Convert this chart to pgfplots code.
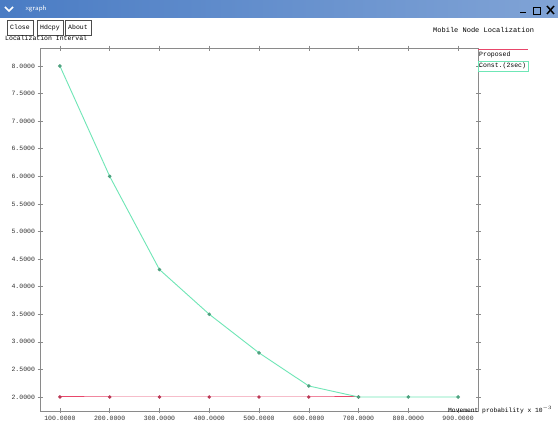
\documentclass[border=0pt]{standalone}
\usepackage{fontspec}
\setmainfont{Liberation Sans}
\setmonofont{Liberation Mono}
\usepackage{pgfplots}
\pgfplotsset{compat=1.18}
\definecolor{cgreen}{HTML}{6FE6B6}
\definecolor{cred}{HTML}{E8466A}
\definecolor{tbar}{HTML}{4A7CC4}
\definecolor{frm}{HTML}{8A8A8A}
\begin{document}
\begin{tikzpicture}[x=1pt,y=1pt]
\fill[white] (0,0) rectangle (558,421);
% window title bar
\shade[left color=tbar, right color=tbar!70!white] (0,403) rectangle (558,421);
\node[anchor=west, white, font=\sffamily\fontsize{7}{8}\selectfont] at (22,412) {xgraph};
\draw[white, line width=1.5pt] (5,414) -- (9,410) -- (13,414);
\draw[black, line width=1pt] (520,408) -- (526,408);
\draw[black, line width=0.8pt] (533,407) rectangle (540,414);
\draw[black, line width=1.5pt] (547,407) -- (554,415) (547,415) -- (554,407);
% buttons
\foreach \xa/\xb/\t in {7/33/Close, 37/63/Hdcpy, 65/91/About}{
  \draw[black!70, line width=0.6pt] (\xa,386) rectangle (\xb,401);
  \node[font=\ttfamily\fontsize{6.5}{7}\selectfont] at ({(\xa+\xb)/2},393.5) {\t};
}
\node[anchor=west, font=\ttfamily\fontsize{6.5}{7}\selectfont, inner sep=0pt] at (5,383) {Localization Interval};
\node[anchor=west, font=\ttfamily\fontsize{7}{8}\selectfont, inner sep=0pt] at (433,391) {Mobile Node Localization};
\begin{axis}[
  at={(40pt,10pt)}, anchor=south west, scale only axis,
  width=438pt, height=363pt,
  xmin=60, xmax=940, ymin=1.746, ymax=8.326,
  xtick={100,200,...,900},
  ytick={2,2.5,...,8},
  axis line style={frm, line width=0.6pt},
  tick style={frm, line width=0.5pt},
  tick align=center, major tick length=5pt,
  tick label style={font=\ttfamily\fontsize{6.5}{7}\selectfont, text=black!80},
  xticklabel style={yshift=1pt},
  yticklabel style={xshift=1pt},
  /pgf/number format/.cd, fixed, fixed zerofill, precision=4, 1000 sep={}, assume math mode=true,
]
\addplot[draw=cred, line width=1pt, mark=*, mark size=1.2pt, mark options={fill=cred!80!black, draw=cred!80!black}] coordinates {
(100,2) (200,2) (300,2) (400,2) (500,2) (600,2) (700,2)
};
\addplot[draw=cgreen, line width=0.9pt, mark=*, mark size=1.3pt, mark options={fill=cgreen!70!black, draw=cgreen!70!black}] coordinates {
(100,8.0) (200,6.0) (300,4.31) (400,3.5) (500,2.8) (600,2.2) (700,2.0) (800,2.0) (900,2.0)
};
\end{axis}
% legend
\draw[cred, line width=0.9pt] (478,372) -- (528,372);
\node[anchor=west, font=\ttfamily\fontsize{6.5}{7}\selectfont, inner sep=0pt] at (479,366) {Proposed};
\draw[cgreen, line width=0.8pt] (478,350) rectangle (528,360);
\node[anchor=west, font=\ttfamily\fontsize{6.5}{7}\selectfont, inner sep=0pt] at (479,355) {Const.(2sec)};
\node[anchor=west, font=\ttfamily\fontsize{6.3}{7}\selectfont, inner sep=0pt] at (448,11) {Movement probability x 10$^{-3}$};
\pgfresetboundingbox
\useasboundingbox (0,0) rectangle (558,421);
\end{tikzpicture}
\end{document}
